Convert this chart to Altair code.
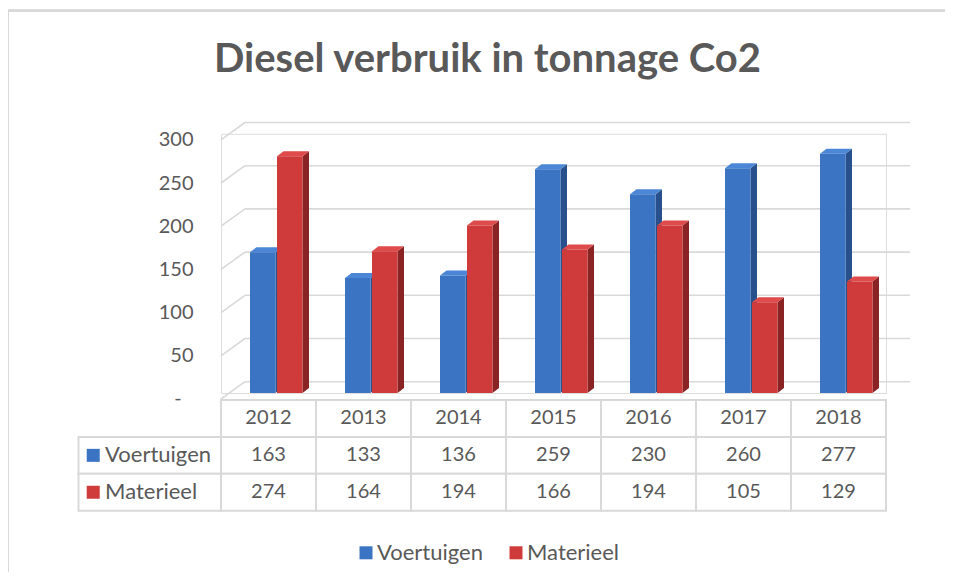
import altair as alt
import pandas as pd

# ---------------- data ----------------
years = ["2012", "2013", "2014", "2015", "2016", "2017", "2018"]
series_names = ["Voertuigen", "Materieel"]
voertuigen = [163, 133, 136, 259, 230, 260, 277]
materieel = [274, 164, 194, 166, 194, 105, 129]
axis_ticks = [0, 50, 100, 150, 200, 250, 300]

# ---------------- style ----------------
front_colors = ["#3A74C2", "#CF3A3A"]
top_colors = ["#4B87D6", "#DF4A4A"]
side_colors = ["#28508C", "#8A2323"]
text_color = "#595959"
grid_color = "#D9D9D9"
FONT = "Lato"

N = len(years)
COL_W = 95.0              # px per category column
PLOT_W = COL_W * N
Y_MAX = 300
PLOT_H = 259.2
PX_PER_UNIT = PLOT_H / Y_MAX

BAR_X = {"Voertuigen": 29.0, "Materieel": 56.0}   # px inside column
BAR_W = 25.5
SIDE_DX = 6.5
SIDE_DY = 5.0
BACK_DX = 24
BACK_DY = -11.3
FRONT_DY = 6

values = {"Voertuigen": voertuigen, "Materieel": materieel}

bars, sides, tops = [], [], []
dx = SIDE_DX / COL_W
dy = SIDE_DY / PX_PER_UNIT
for si, s in enumerate(series_names):
    for i, (yr, v) in enumerate(zip(years, values[s])):
        x0 = i + BAR_X[s] / COL_W
        x1 = x0 + BAR_W / COL_W
        bid = f"{s}-{yr}"
        bars.append(dict(series=s, year=yr, value=v, x0=x0, x1=x1, zero=0))
        sc, tc = side_colors[si], top_colors[si]
        sides += [dict(bid=bid, x=x1, y=v, y2=0, fill=sc),
                  dict(bid=bid, x=x1 + dx, y=v + dy, y2=dy, fill=sc)]
        tops += [dict(bid=bid, x=x0, y=v, y2=v, fill=tc),
                 dict(bid=bid, x=x0 + dx, y=v + dy, y2=v, fill=tc),
                 dict(bid=bid, x=x1, y=v + dy, y2=v, fill=tc),
                 dict(bid=bid, x=x1 + dx, y=v + dy, y2=v + dy, fill=tc)]

bars_df = pd.DataFrame(bars)
sides_df = pd.DataFrame(sides)
tops_df = pd.DataFrame(tops)
grid_df = pd.DataFrame({"v": axis_ticks, "xs": 0, "xe": N})

rows = ["hdr"] + series_names
hdr_df = pd.DataFrame({"year": years, "i0": list(range(N)), "i1": [i + 1 for i in range(N)],
                       "xc": [i + 0.5 for i in range(N)], "row": "hdr"})
cell_rows = []
for s in series_names:
    for i, (yr, v) in enumerate(zip(years, values[s])):
        cell_rows.append(dict(row=s, i0=i, i1=i + 1, xc=i + 0.5, txt=str(v)))
cells_df = pd.DataFrame(cell_rows)
lab_df = pd.DataFrame({"row": series_names, "i0": -1.5, "i1": 0,
                       "xm": -1.345, "xt": -1.22, "series": series_names})
zero_df = pd.DataFrame({"v": [0], "xs": [0], "lab": ["-"]})

xscale = alt.Scale(domain=[0, N], nice=False, zero=False)
yscale = alt.Scale(domain=[0, Y_MAX], nice=False, zero=False)
tscale = alt.Scale(domain=rows, range=[266.2, 376.9], paddingInner=0, paddingOuter=0)
cscale = alt.Scale(domain=series_names, range=front_colors)

X = lambda f: alt.X(f, type="quantitative", scale=xscale, axis=None)

back_grid = alt.Chart(grid_df).mark_rule(
    color=grid_color, strokeWidth=1.6, xOffset=BACK_DX, x2Offset=BACK_DX, yOffset=BACK_DY
).encode(x=X("xs"), x2="xe:Q", y=alt.Y("v:Q", scale=yscale, axis=None))

diag_grid = alt.Chart(grid_df).mark_rule(
    color=grid_color, strokeWidth=1.6, yOffset=FRONT_DY, x2Offset=BACK_DX, y2Offset=BACK_DY
).encode(x=X("xs"), x2="xs:Q", y=alt.Y("v:Q", scale=yscale, axis=None), y2="v:Q")

side_layer = alt.Chart(sides_df).mark_area(opacity=1).encode(
    x=X("x"), y=alt.Y("y:Q", scale=yscale, axis=None), y2="y2:Q",
    detail="bid:N", color=alt.Color("fill:N", scale=None))

top_layer = alt.Chart(tops_df).mark_area(opacity=1).encode(
    x=X("x"), y=alt.Y("y:Q", scale=yscale, axis=None), y2="y2:Q",
    detail="bid:N", color=alt.Color("fill:N", scale=None))

front_layer = alt.Chart(bars_df).mark_rect().encode(
    x=X("x0"), x2="x1:Q",
    y=alt.Y("value:Q", scale=yscale, title=None,
            axis=alt.Axis(values=axis_ticks,
                          labelExpr="datum.value == 0 ? '' : datum.label",
                          domain=False, ticks=False, grid=False, labelPadding=28,
                          labelFontSize=20, labelFont=FONT, labelColor=text_color,
                          labelOffset=FRONT_DY)),
    y2="zero:Q",
    color=alt.Color("series:N", scale=cscale, sort=series_names,
                    legend=alt.Legend(orient="none", legendX=134, legendY=408,
                                      direction="horizontal", title=None,
                                      symbolType="square", symbolSize=169,
                                      symbolStrokeWidth=0, symbolOpacity=1,
                                      labelFontSize=22, labelFont=FONT,
                                      labelColor=text_color, columnPadding=22,
                                      labelOffset=0, padding=0)))

# the "-" that Excel shows for the zero tick
zero_label = alt.Chart(zero_df).mark_text(
    font=FONT, fontSize=20, color=text_color, baseline="middle", align="center",
    dx=-43, dy=FRONT_DY
).encode(x=X("xs"), y=alt.Y("v:Q", scale=yscale, axis=None), text="lab:N")

TY = lambda: alt.Y("row:N", scale=tscale, axis=None)

hdr_cells = alt.Chart(hdr_df).mark_rect(fill="white", stroke=grid_color, strokeWidth=2).encode(
    x=X("i0"), x2="i1:Q", y=TY())
val_cells = alt.Chart(cells_df).mark_rect(fill="white", stroke=grid_color, strokeWidth=2).encode(
    x=X("i0"), x2="i1:Q", y=TY())
lab_cells = alt.Chart(lab_df).mark_rect(fill="white", stroke=grid_color, strokeWidth=2).encode(
    x=X("i0"), x2="i1:Q", y=TY())

hdr_text = alt.Chart(hdr_df).mark_text(font=FONT, fontSize=20, color=text_color, baseline="middle").encode(
    x=X("xc"), y=TY(), text="year:N")
val_text = alt.Chart(cells_df).mark_text(font=FONT, fontSize=20, color=text_color, baseline="middle").encode(
    x=X("xc"), y=TY(), text="txt:N")
lab_text = alt.Chart(lab_df).mark_text(font=FONT, fontSize=22, color=text_color, baseline="middle",
                                       align="left").encode(
    x=X("xt"), y=TY(), text="row:N")
lab_mark = alt.Chart(lab_df).mark_square(size=169, opacity=1).encode(
    x=X("xm"), y=TY(), color=alt.Color("series:N", scale=cscale, legend=None))

frame = alt.Chart(grid_df).mark_rule(color=grid_color, strokeWidth=2).encode(
    x=alt.value(-213), y=alt.value(-123), y2=alt.value(460))
frame_top = alt.Chart(grid_df).mark_rule(color=grid_color, strokeWidth=2).encode(
    x=alt.value(-213), x2=alt.value(740), y=alt.value(-123))

chart = alt.layer(
    back_grid, diag_grid, side_layer, top_layer, front_layer, zero_label,
    hdr_cells, val_cells, lab_cells, hdr_text, val_text, lab_text, lab_mark,
    frame, frame_top
).resolve_scale(y="independent").properties(
    width=PLOT_W, height=PLOT_H,
    title=alt.TitleParams("Diesel verbruik in tonnage Co2", font=FONT, fontSize=40,
                          fontWeight="bold", color=text_color, anchor="middle",
                          baseline="alphabetic", frame="group", dx=-66, dy=102, offset=0),
    autosize=alt.AutoSizeParams(type="none"),
    padding={"left": 213, "top": 125.8, "right": 59, "bottom": 179},
).configure_view(strokeWidth=0, stroke="transparent").configure(background="white")

chart.save("out.html", embed_options={"renderer": "svg", "actions": False})
